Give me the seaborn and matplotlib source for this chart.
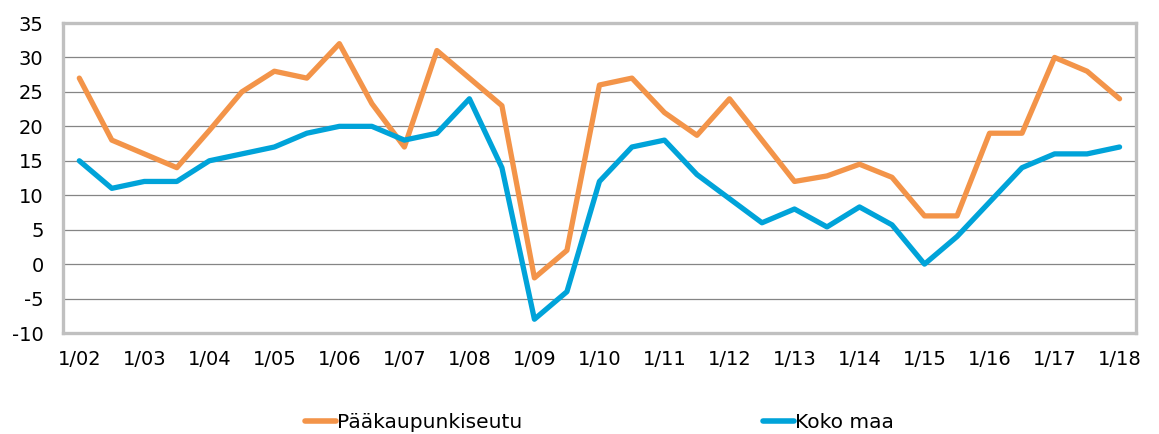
import numpy as np
import pandas as pd
import matplotlib
matplotlib.use("Agg")
import matplotlib.pyplot as plt
import seaborn as sns

periods = ["1/02", "7/02", "1/03", "7/03", "1/04", "7/04", "1/05", "7/05", "1/06", "7/06",
           "1/07", "7/07", "1/08", "7/08", "1/09", "7/09", "1/10", "7/10", "1/11", "7/11",
           "1/12", "7/12", "1/13", "7/13", "1/14", "7/14", "1/15", "7/15", "1/16", "7/16",
           "1/17", "7/17", "1/18"]
paakaupunkiseutu = [27, 18, 16, 14, 19.4, 25, 28, 27, 32, 23.3,
                    17, 31, 27, 23, -2, 2, 26, 27, 22, 18.7,
                    24, 18, 12, 12.8, 14.5, 12.6, 7, 7, 19, 19,
                    30, 28, 24]
koko_maa = [15, 11, 12, 12, 15, 16, 17, 19, 20, 20,
            18, 19, 24, 14, -8, -4, 12, 17, 18, 13,
            9.5, 6, 8, 5.4, 8.3, 5.7, 0, 4, 9, 14,
            16, 16, 17]
series_names = ["Pääkaupunkiseutu", "Koko maa"]
colors = ["#F39449", "#00A3D9"]
yticks = [-10, -5, 0, 5, 10, 15, 20, 25, 30, 35]

n = len(periods)
df = pd.DataFrame({
    "idx": list(range(n)) * 2,
    "value": paakaupunkiseutu + koko_maa,
    "series": [series_names[0]] * n + [series_names[1]] * n,
})

sns.set_style("white")
plt.rcParams["font.family"] = ["DejaVu Sans"]

fig = plt.figure(figsize=(11.59, 4.34), dpi=100)
ax = fig.add_axes([0.0544, 0.2327, 0.9256, 0.7143])

sns.lineplot(data=df, x="idx", y="value", hue="series", palette=colors,
             linewidth=3.8, ax=ax, legend=True)

ax.set_xlim(-0.5, n - 0.5)
ax.set_ylim(-10, 35)
ax.set_yticks(yticks)
ax.set_yticklabels([str(v) for v in yticks])
ax.set_xticks(list(range(0, n, 2)))
ax.set_xticklabels([periods[i] for i in range(0, n, 2)])
ax.set_xlabel("")
ax.set_ylabel("")
ax.tick_params(axis="both", length=0, labelsize=14, colors="#000000")
ax.tick_params(axis="y", pad=14)
ax.tick_params(axis="x", pad=12)

ax.grid(axis="y", color="#858585", linewidth=0.9)
ax.grid(axis="x", visible=False)
ax.set_axisbelow(True)
for s in ax.spines.values():
    s.set_visible(True)
    s.set_color("#C0C0C0")
    s.set_linewidth(2.4)

handles, labels = ax.get_legend_handles_labels()
leg = ax.legend(handles, labels, loc="center", bbox_to_anchor=(0.5, -0.29),
                ncol=2, frameon=False, fontsize=14.5, handlelength=1.5,
                handletextpad=0.05, columnspacing=12.0)
for t in leg.get_texts():
    t.set_color("#000000")
for h in leg.get_lines():
    h.set_linewidth(4)

fig.savefig("out.png", dpi=100)
